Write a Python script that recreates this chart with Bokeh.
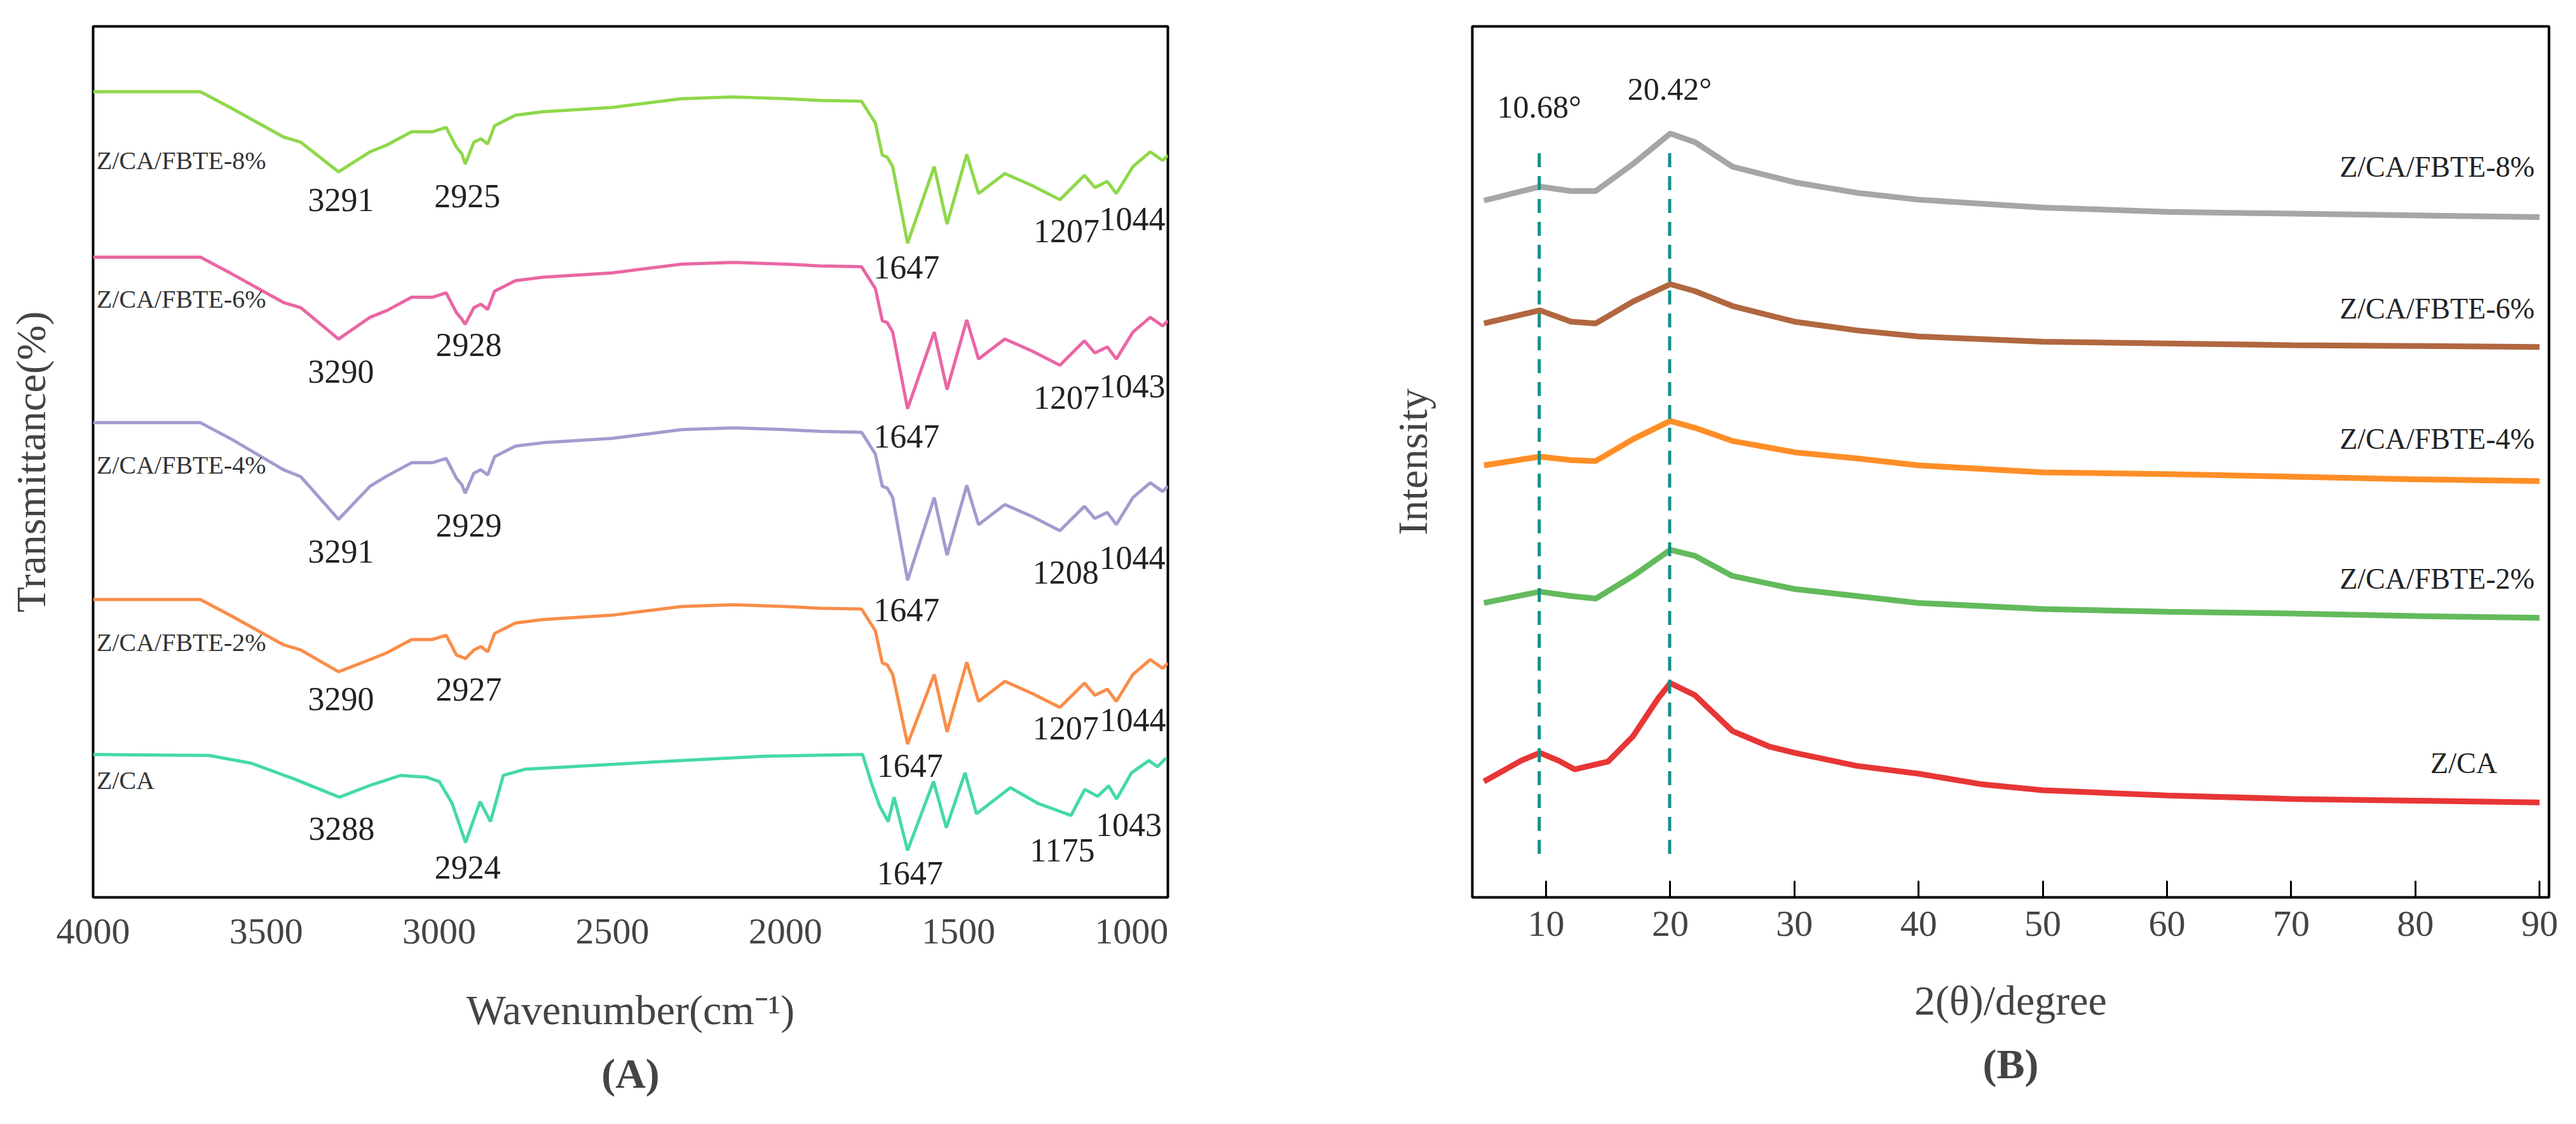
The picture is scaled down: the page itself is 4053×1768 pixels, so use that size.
from bokeh.plotting import figure
from bokeh.layouts import row
from bokeh.models import Range1d, Label, Title, FixedTicker
from bokeh.embed import file_html
from bokeh.resources import INLINE

FONT = "Liberation Serif"

# ---------------- FTIR data (panel A) ----------------
ir_wn = [4000, 3690, 3600, 3450, 3400, 3291, 3200, 3150, 3080, 3020, 2980, 2950, 2935, 2925, 2900, 2880,
         2860, 2840, 2780, 2700, 2500, 2300, 2150, 2000, 1900, 1780, 1740, 1720, 1706, 1690, 1647, 1570,
         1533, 1476, 1442, 1366, 1286, 1207, 1136, 1106, 1070, 1044, 996, 946, 910, 895]
ir_8 = [92.5, 92.5, 90.6, 87.3, 86.7, 83.3, 85.6, 86.4, 87.9, 87.9, 88.4, 86.1, 85.4, 84.2, 86.7, 87.1,
        86.5, 88.6, 89.8, 90.2, 90.7, 91.7, 91.9, 91.7, 91.5, 91.4, 88.9, 85.2, 85.0, 83.9, 75.1, 83.9,
        77.3, 85.3, 80.8, 83.1, 81.7, 80.1, 82.9, 81.5, 82.2, 80.8, 83.9, 85.6, 84.6, 85.2]
ir_6 = [73.5, 73.5, 71.6, 68.3, 67.7, 64.1, 66.6, 67.4, 68.9, 68.9, 69.4, 67.1, 66.4, 65.8, 67.7, 68.1,
        67.5, 69.6, 70.8, 71.2, 71.7, 72.7, 72.9, 72.7, 72.5, 72.4, 69.9, 66.2, 66.0, 64.9, 56.1, 64.9,
        58.3, 66.3, 61.8, 64.1, 62.7, 61.1, 63.9, 62.5, 63.2, 61.8, 64.9, 66.6, 65.6, 66.2]
ir_4 = [54.5, 54.5, 52.6, 49.1, 48.3, 43.4, 47.2, 48.4, 49.9, 49.9, 50.4, 48.1, 47.4, 46.4, 48.7, 49.1,
        48.5, 50.6, 51.8, 52.2, 52.7, 53.7, 53.9, 53.7, 53.5, 53.4, 50.9, 47.2, 47.0, 45.9, 36.4, 45.9,
        39.3, 47.3, 42.8, 45.1, 43.7, 42.1, 44.9, 43.5, 44.2, 42.8, 45.9, 47.6, 46.6, 47.2]
ir_2 = [34.2, 34.2, 32.3, 29.0, 28.4, 25.9, 27.3, 28.1, 29.6, 29.6, 30.1, 27.8, 27.6, 27.4, 28.4, 28.8,
        28.2, 30.3, 31.5, 31.9, 32.4, 33.4, 33.6, 33.4, 33.2, 33.1, 30.6, 26.9, 26.7, 25.6, 17.6, 25.6,
        19.0, 27.0, 22.5, 24.8, 23.4, 21.8, 24.6, 23.2, 23.9, 22.5, 25.6, 27.3, 26.3, 26.9]
ca_wn = [4000, 3666, 3543, 3420, 3288, 3197, 3111, 3037, 3000, 2963, 2924, 2882, 2852, 2815, 2753, 2308,
         2061, 1777, 1753, 1728, 1703, 1686, 1647, 1572, 1535, 1481, 1448, 1350, 1271, 1175, 1135, 1098,
         1066, 1043, 1000, 950, 925, 900]
ca_t = [16.4, 16.3, 15.4, 13.6, 11.5, 12.9, 14.0, 13.8, 13.3, 10.8, 6.3, 11.0, 8.7, 14.0, 14.7, 15.7,
        16.2, 16.4, 13.3, 10.5, 8.7, 11.5, 5.4, 13.3, 8.0, 14.3, 9.6, 12.6, 10.8, 9.4, 12.4, 11.6,
        12.8, 11.3, 14.3, 15.7, 15.0, 16.0]

ir_names = ["Z/CA/FBTE-8%", "Z/CA/FBTE-6%", "Z/CA/FBTE-4%", "Z/CA/FBTE-2%", "Z/CA"]
ir_colors = ["#8ED84A", "#EA66A4", "#A59ACF", "#F98D48", "#44D9A6"]
ir_name_y = [84.6, 68.7, 49.6, 29.3, 13.4]

# peak annotations: (wavenumber, y, text)
ir_peaks = [
    [(3284, 80.1, "3291"), (2919, 80.5, "2925"), (1650, 72.3, "1647"), (1188, 76.5, "1207"), (998, 77.9, "1044")],
    [(3284, 60.4, "3290"), (2915, 63.4, "2928"), (1650, 52.9, "1647"), (1188, 57.4, "1207"), (998, 58.7, "1043")],
    [(3284, 39.7, "3291"), (2915, 42.7, "2929"), (1650, 33.0, "1647"), (1190, 37.3, "1208"), (998, 39.0, "1044")],
    [(3284, 22.8, "3290"), (2915, 23.9, "2927"), (1640, 15.1, "1647"), (1190, 19.4, "1207"), (996, 20.4, "1044")],
    [(3282, 7.9, "3288"), (2918, 3.4, "2924"), (1640, 2.8, "1647"), (1200, 5.4, "1175"), (1008, 8.3, "1043")],
]

# ---------------- XRD data (panel B) ----------------
xrd_theta = [5, 9.5, 12, 14, 17, 20, 22, 25, 30, 35, 40, 50, 60, 70, 80, 90]
xrd_8 = [80.0, 81.6, 81.1, 81.1, 84.2, 87.7, 86.7, 83.9, 82.1, 80.9, 80.1, 79.2, 78.7, 78.5, 78.3, 78.1]
xrd_6 = [65.9, 67.4, 66.1, 65.9, 68.4, 70.4, 69.6, 67.9, 66.1, 65.1, 64.4, 63.8, 63.6, 63.4, 63.3, 63.2]
xrd_4 = [49.6, 50.6, 50.2, 50.1, 52.6, 54.7, 53.9, 52.4, 51.1, 50.4, 49.6, 48.8, 48.6, 48.3, 48.0, 47.8]
xrd_2 = [33.8, 35.1, 34.6, 34.3, 36.9, 39.9, 39.2, 36.9, 35.4, 34.6, 33.8, 33.1, 32.8, 32.6, 32.3, 32.1]
ca_theta = [5, 8, 9.5, 11, 12.3, 15, 17, 19, 20, 22, 25, 28, 30, 35, 40, 45, 50, 60, 70, 80, 90]
xrd_ca = [13.3, 15.7, 16.6, 15.7, 14.7, 15.6, 18.5, 22.8, 24.6, 23.2, 19.1, 17.3, 16.6, 15.1, 14.2, 13.0,
          12.3, 11.7, 11.3, 11.1, 10.9]
xrd_names = ["Z/CA/FBTE-8%", "Z/CA/FBTE-6%", "Z/CA/FBTE-4%", "Z/CA/FBTE-2%", "Z/CA"]
xrd_colors = ["#9C9C9C", "#A8572B", "#FF8210", "#52B34A", "#E4201F"]
xrd_name_y = [83.9, 67.6, 52.6, 36.6, 15.4]
peak_lines = [9.45, 19.95]
peak_texts = ["10.68°", "20.42°"]
peak_text_y = [90.8, 92.8]


def style(p):
    p.outline_line_color = "black"
    p.outline_line_width = 4
    p.grid.visible = False
    p.background_fill_color = "white"
    p.border_fill_color = "white"
    for ax in (p.xaxis[0], p.yaxis[0]):
        ax.axis_line_color = None
        ax.major_label_text_font = FONT
        ax.axis_label_text_font = FONT
        ax.axis_label_text_font_style = "normal"
        ax.minor_tick_line_color = None


# ---------- Panel A ----------
pa = figure(width=2050, height=1752, output_backend="svg", toolbar_location=None,
            x_range=Range1d(4000, 895), y_range=Range1d(0, 100),
            min_border_left=146, min_border_right=213, min_border_top=41, min_border_bottom=341)
style(pa)
pa.xaxis.ticker = FixedTicker(ticks=[4000, 3500, 3000, 2500, 2000, 1500, 1000])
pa.xaxis.major_tick_line_color = None
pa.xaxis.major_label_text_font = FONT
pa.xaxis.major_label_text_font_size = "58px"
pa.xaxis.major_label_standoff = 28
pa.xaxis.axis_label = "Wavenumber(cm⁻¹)"
pa.xaxis.axis_label_text_font_size = "66px"
pa.xaxis.axis_label_standoff = 65
pa.yaxis.ticker = FixedTicker(ticks=[])
pa.yaxis.major_tick_line_color = None
pa.yaxis.axis_label = "Transmittance(%)"
pa.yaxis.axis_label_text_font_size = "66px"
pa.yaxis.axis_label_standoff = 62

ir_series = [(ir_wn, ir_8), (ir_wn, ir_6), (ir_wn, ir_4), (ir_wn, ir_2), (ca_wn, ca_t)]
for (xs, ys), c, nm, ny, pk in zip(ir_series, ir_colors, ir_names, ir_name_y, ir_peaks):
    pa.line(xs, ys, line_color=c, line_width=5)
    pa.add_layout(Label(x=3990, y=ny, text=nm, text_font=FONT, text_font_size="40px",
                        text_color="#333333", text_baseline="middle", text_align="left"))
    for (px, py, t) in pk:
        pa.add_layout(Label(x=px, y=py, text=t, text_font=FONT, text_font_size="52px",
                            text_color="#222222", text_baseline="middle", text_align="center"))
pa.add_layout(Title(text="(A)", text_font=FONT, text_font_size="66px", text_font_style="bold",
                    align="center", standoff=45), "below")

# ---------- Panel B ----------
pb = figure(width=1987, height=1752, output_backend="svg", toolbar_location=None,
            x_range=Range1d(4.06, 90.76), y_range=Range1d(0, 100),
            min_border_left=266, min_border_right=27, min_border_top=41, min_border_bottom=332)
style(pb)
pb.xaxis.ticker = FixedTicker(ticks=[10, 20, 30, 40, 50, 60, 70, 80, 90])
pb.xaxis.major_tick_in = 26
pb.xaxis.major_tick_out = 0
pb.xaxis.major_tick_line_width = 3
pb.xaxis.major_tick_line_color = "black"
pb.xaxis.major_label_text_font = FONT
pb.xaxis.major_label_text_font_size = "58px"
pb.xaxis.major_label_standoff = 22
pb.xaxis.axis_label = "2(θ)/degree"
pb.xaxis.axis_label_text_font_size = "66px"
pb.xaxis.axis_label_standoff = 62
pb.yaxis.ticker = FixedTicker(ticks=[])
pb.yaxis.major_tick_line_color = None
pb.yaxis.axis_label = "Intensity"
pb.yaxis.axis_label_text_font_size = "66px"
pb.yaxis.axis_label_standoff = 58

xrd_series = [(xrd_theta, xrd_8), (xrd_theta, xrd_6), (xrd_theta, xrd_4), (xrd_theta, xrd_2), (ca_theta, xrd_ca)]
for (xs, ys), c, nm, ny in zip(xrd_series, xrd_colors, xrd_names, xrd_name_y):
    pb.line(xs, ys, line_color=c, line_width=9, line_alpha=0.9)
    if nm == "Z/CA":
        pb.add_layout(Label(x=83.9, y=ny, text=nm, text_font=FONT, text_font_size="46px",
                            text_color="#222222", text_baseline="middle", text_align="center"))
    else:
        pb.add_layout(Label(x=89.6, y=ny, text=nm, text_font=FONT, text_font_size="46px",
                            text_color="#222222", text_baseline="middle", text_align="right"))

for lx, lt, ly in zip(peak_lines, peak_texts, peak_text_y):
    pb.segment(x0=[lx], y0=[5.0], x1=[lx], y1=[86.0], line_color="#13908A",
               line_width=5, line_dash="22 14")
    pb.add_layout(Label(x=lx, y=ly, text=lt, text_font=FONT, text_font_size="50px",
                        text_color="#222222", text_baseline="middle", text_align="center"))
pb.add_layout(Title(text="(B)", text_font=FONT, text_font_size="66px", text_font_style="bold",
                    align="center", standoff=45), "below")

layout = row(pa, pb)
open("out.html", "w").write(file_html(layout, INLINE))
